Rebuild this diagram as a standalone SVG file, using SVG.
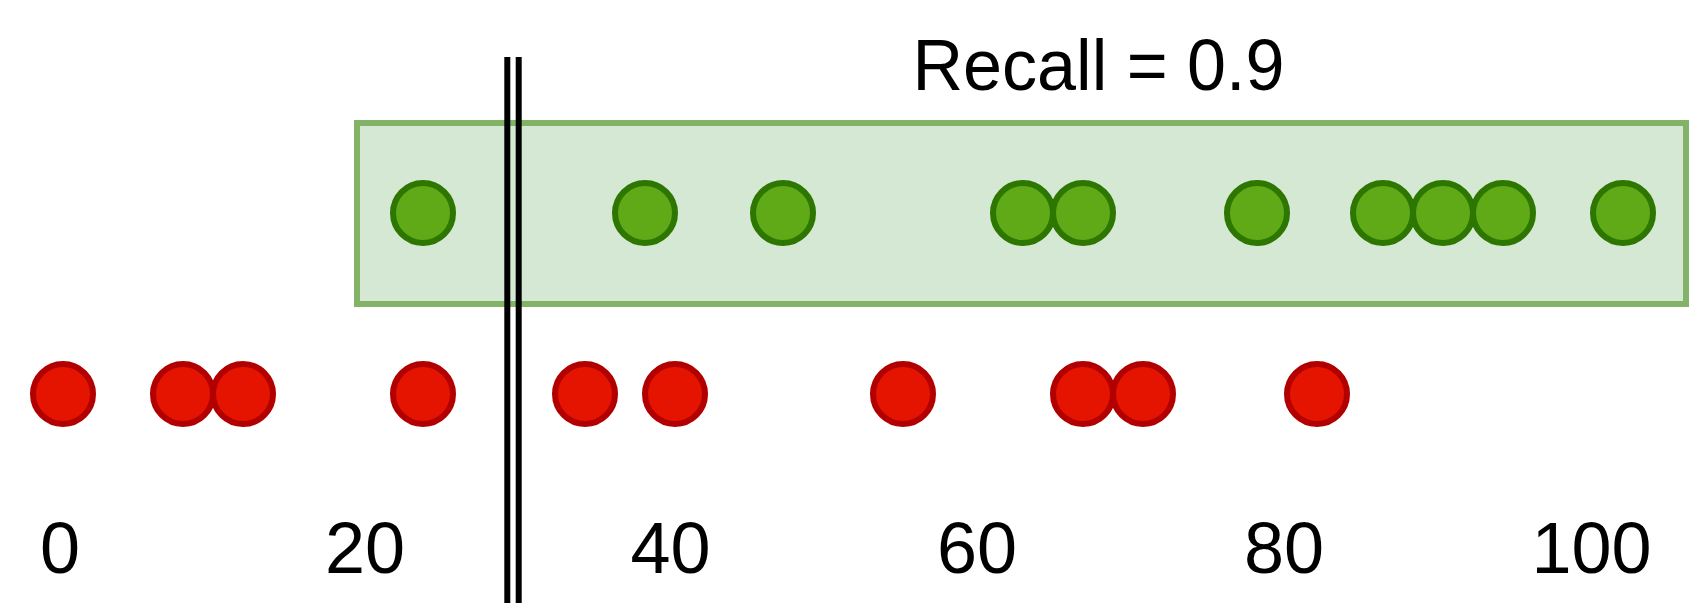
<svg xmlns="http://www.w3.org/2000/svg" width="1692" height="606" viewBox="0 0 1692 606">
<style>
.g{fill:#60a917;stroke:#2d7600;stroke-width:6}
.r{fill:#e51400;stroke:#b20000;stroke-width:6}
.t{font-family:"Liberation Sans",Arial,sans-serif;font-size:72px;fill:#000;text-anchor:middle}
</style>
<rect width="1692" height="606" fill="#fff"/>
<g id="box"><rect x="357" y="123" width="1329" height="181" fill="#d5e8d4" stroke="#82b366" stroke-width="6"/></g>
<g id="green">
<circle class="g" cx="423" cy="213" r="30"/>
<circle class="g" cx="645" cy="213" r="30"/>
<circle class="g" cx="783" cy="213" r="30"/>
<circle class="g" cx="1023" cy="213" r="30"/>
<circle class="g" cx="1083" cy="213" r="30"/>
<circle class="g" cx="1257" cy="213" r="30"/>
<circle class="g" cx="1383" cy="213" r="30"/>
<circle class="g" cx="1443" cy="213" r="30"/>
<circle class="g" cx="1503" cy="213" r="30"/>
<circle class="g" cx="1623" cy="213" r="30"/>
</g>
<g id="red">
<circle class="r" cx="63" cy="394" r="30"/>
<circle class="r" cx="183" cy="394" r="30"/>
<circle class="r" cx="243" cy="394" r="30"/>
<circle class="r" cx="423" cy="394" r="30"/>
<circle class="r" cx="585" cy="394" r="30"/>
<circle class="r" cx="675" cy="394" r="30"/>
<circle class="r" cx="903" cy="394" r="30"/>
<circle class="r" cx="1083" cy="394" r="30"/>
<circle class="r" cx="1143" cy="394" r="30"/>
<circle class="r" cx="1317" cy="394" r="30"/>
</g>
<g id="threshold" stroke="#000" stroke-width="6">
<line x1="507.3" y1="57" x2="507.3" y2="603"/>
<line x1="518.7" y1="57" x2="518.7" y2="603"/>
</g>
<g id="labels">
<text class="t" x="1098.5" y="90" textLength="372" lengthAdjust="spacingAndGlyphs">Recall = 0.9</text>
<text class="t" x="60" y="573">0</text>
<text class="t" x="365" y="573">20</text>
<text class="t" x="670.5" y="573">40</text>
<text class="t" x="977" y="573">60</text>
<text class="t" x="1284" y="573">80</text>
<text class="t" x="1591.5" y="573">100</text>
</g>
</svg>
